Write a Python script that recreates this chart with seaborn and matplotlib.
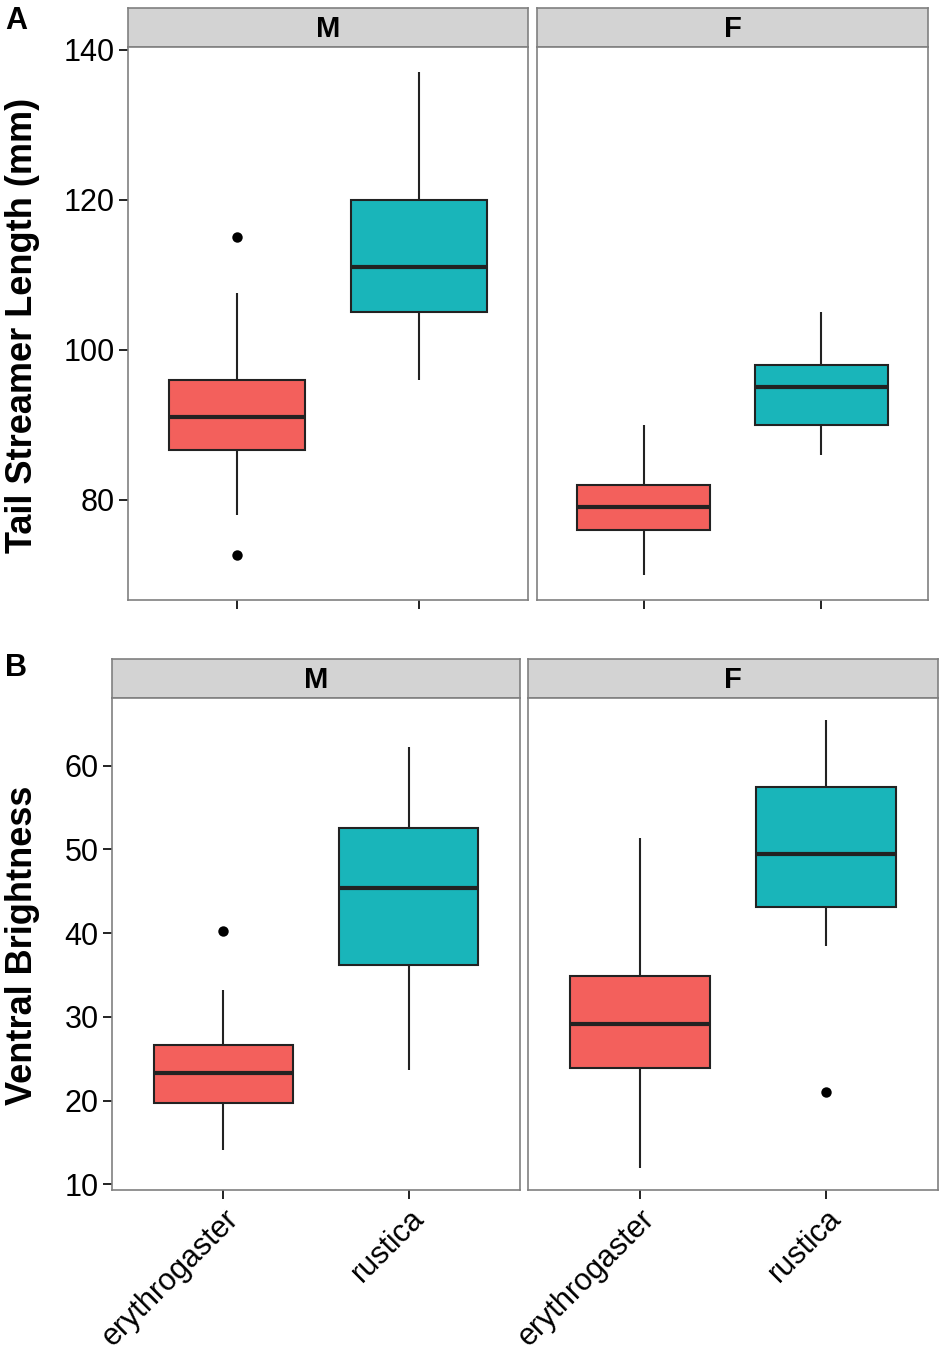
import numpy as np
import pandas as pd
import seaborn as sns
import matplotlib.pyplot as plt

sns.set_theme(style="white")
plt.rcParams["font.family"] = ["Liberation Sans", "DejaVu Sans"]
plt.rcParams["text.color"] = "black"

species = ["erythrogaster", "rustica"]
sexes = ["M", "F"]
box_colors = ["#F3605C", "#19B5BA"]

# five-number summaries: whisker low, Q1, median, Q3, whisker high
tail_m_ery = [78.0, 86.7, 91.0, 96.0, 107.6]
tail_m_rus = [96.0, 105.0, 111.0, 120.0, 137.0]
tail_f_ery = [70.0, 76.0, 79.0, 82.0, 90.0]
tail_f_rus = [86.0, 90.0, 95.0, 98.0, 105.0]
tail_out_sex = ["M", "M"]
tail_out_species = ["erythrogaster", "erythrogaster"]
tail_out_value = [115.0, 72.7]

bright_m_ery = [14.1, 19.7, 23.3, 26.7, 33.2]
bright_m_rus = [23.7, 36.2, 45.4, 52.5, 62.2]
bright_f_ery = [12.0, 23.9, 29.2, 34.9, 51.3]
bright_f_rus = [38.5, 43.1, 49.5, 57.5, 65.4]
bright_out_sex = ["M", "F"]
bright_out_species = ["erythrogaster", "rustica"]
bright_out_value = [40.3, 21.0]

tail_ticks = [80, 100, 120, 140]
bright_ticks = [10, 20, 30, 40, 50, 60]


def long_table(groups):
    rows = []
    for (sex, sp), vals in groups.items():
        for v in vals:
            rows.append({"sex": sex, "species": sp, "value": v})
    return pd.DataFrame(rows)


tail_df = long_table({("M", "erythrogaster"): tail_m_ery, ("M", "rustica"): tail_m_rus,
                      ("F", "erythrogaster"): tail_f_ery, ("F", "rustica"): tail_f_rus})
bright_df = long_table({("M", "erythrogaster"): bright_m_ery, ("M", "rustica"): bright_m_rus,
                        ("F", "erythrogaster"): bright_f_ery, ("F", "rustica"): bright_f_rus})
tail_out = pd.DataFrame({"sex": tail_out_sex, "species": tail_out_species, "value": tail_out_value})
bright_out = pd.DataFrame({"sex": bright_out_sex, "species": bright_out_species, "value": bright_out_value})

W, H = 945, 1361
fig = plt.figure(figsize=(W / 100, H / 100))
border = "#808080"


def px_axes(x0, y0, x1, y1):
    return fig.add_axes([x0 / W, 1 - y1 / H, (x1 - x0) / W, (y1 - y0) / H])


def draw_row(df, out, yticks, panels, strip_top, strip_bot, panel_bot, tick_labels):
    allv = np.concatenate([df["value"].values, out["value"].values])
    lo, hi = allv.min(), allv.max()
    pad = 0.05 * (hi - lo)
    for i, (sex, (x0, x1)) in enumerate(zip(sexes, panels)):
        strip = px_axes(x0, strip_top, x1, strip_bot)
        strip.set_facecolor("#D3D3D3")
        strip.set_xticks([])
        strip.set_yticks([])
        for sp in strip.spines.values():
            sp.set_color(border)
            sp.set_linewidth(1.2)
        strip.text(0.5, 0.45, sex, transform=strip.transAxes, ha="center", va="center",
                   fontsize=21, fontweight="bold", color="black")

        ax = px_axes(x0, strip_bot, x1, panel_bot)
        sub = df[df["sex"] == sex]
        sns.boxplot(data=sub, x="species", y="value", hue="species", order=species,
                    hue_order=species, palette=box_colors, saturation=1, width=0.75,
                    whis=(0, 100), linecolor="#222222", linewidth=1.5,
                    medianprops=dict(linewidth=3.0), capprops=dict(visible=False),
                    legend=False, ax=ax)
        osub = out[out["sex"] == sex]
        if len(osub):
            sns.stripplot(data=osub, x="species", y="value", order=species, jitter=False,
                          color="black", size=7.5, ax=ax)
        ax.set_xlim(-0.6, 1.6)
        ax.set_ylim(lo - pad, hi + pad)
        ax.set_yticks(yticks)
        ax.set_xlabel("")
        ax.set_ylabel("")
        ax.set_facecolor("white")
        for sp in ax.spines.values():
            sp.set_visible(True)
            sp.set_color(border)
            sp.set_linewidth(1.2)
        ax.tick_params(axis="both", direction="out", length=6.5, width=1.4, color="#222222",
                       labelsize=22, labelcolor="black", bottom=True, left=(i == 0),
                       labelleft=(i == 0), labelbottom=tick_labels, pad=3)
        if tick_labels:
            ax.set_xticks([0, 1])
            ax.set_xticklabels(species, rotation=45, ha="right", rotation_mode="anchor")


draw_row(tail_df, tail_out, tail_ticks, [(128, 528), (537, 928)], 8, 47, 600, False)
draw_row(bright_df, bright_out, bright_ticks, [(112, 520), (528, 938)], 659, 698, 1190, True)

fig.text(23 / W, 1 - 325 / H, "Tail Streamer Length (mm)", rotation=90, fontsize=26,
         fontweight="bold", ha="center", va="center", color="black")
fig.text(23 / W, 1 - 945 / H, "Ventral Brightness", rotation=90, fontsize=26,
         fontweight="bold", ha="center", va="center", color="black")
fig.text(5 / W, 1 - 21 / H, "A", fontsize=22, fontweight="bold", ha="left", va="center",
         color="black")
fig.text(5 / W, 1 - 668 / H, "B", fontsize=22, fontweight="bold", ha="left", va="center",
         color="black")

fig.savefig("out.png", dpi=100)
